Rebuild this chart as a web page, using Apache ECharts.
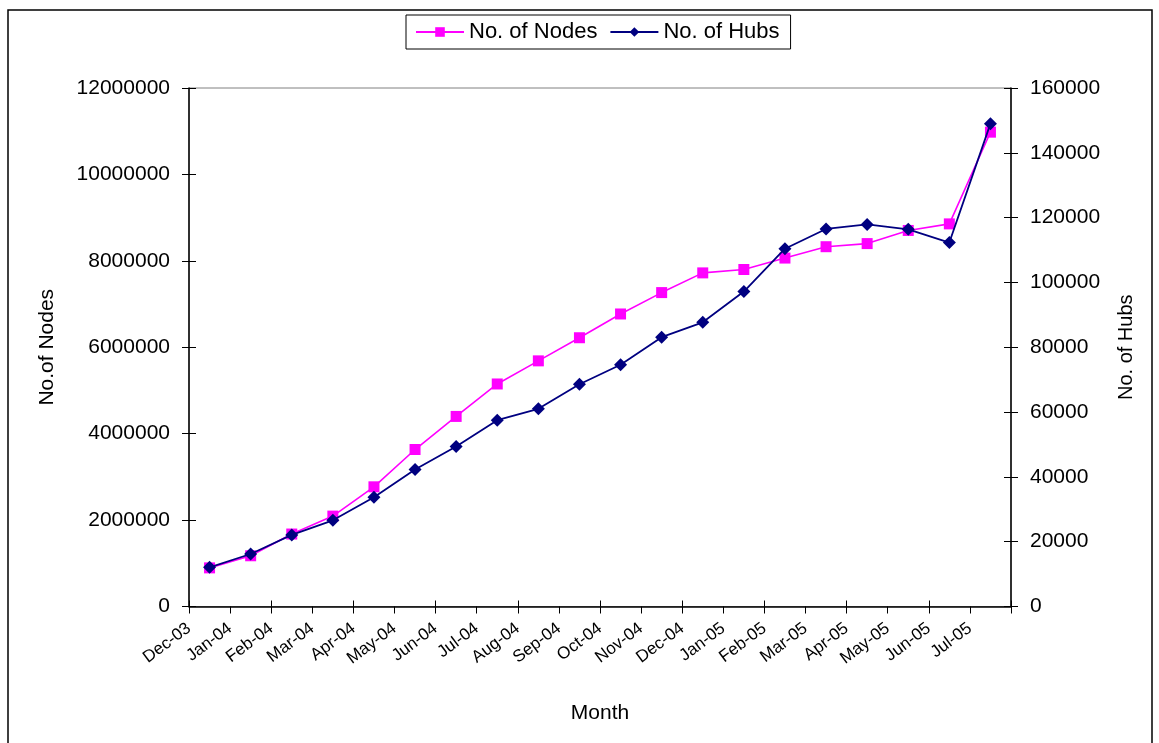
<!DOCTYPE html>
<html>
<head>
<meta charset="utf-8">
<script src="https://cdn.jsdelivr.net/npm/echarts@6/dist/echarts.min.js"></script>
<style>
html,body{margin:0;padding:0;background:#fff;}
#chart{width:1159px;height:743px;}
</style>
</head>
<body>
<div id="chart"></div>
<script>
var months = ['Dec-03','Jan-04','Feb-04','Mar-04','Apr-04','May-04','Jun-04','Jul-04','Aug-04','Sep-04',
              'Oct-04','Nov-04','Dec-04','Jan-05','Feb-05','Mar-05','Apr-05','May-05','Jun-05','Jul-05'];
var nodes = [894000,1174000,1677000,2092000,2770000,3633000,4399000,5150000,5685000,6220000,
             6770000,7265000,7721000,7800000,8064000,8327000,8399000,8703000,8855000,10978000];
var hubs = [12100,16200,22100,26600,33700,42300,49400,57500,61000,68600,
            74600,83100,87700,97200,110400,116500,117900,116400,112300,149000];
var nodeTicks = {min:0, max:12000000, interval:2000000};
var hubTicks = {min:0, max:160000, interval:20000};

var FONT = '"Liberation Sans", Arial, sans-serif';
var chart = echarts.init(document.getElementById('chart'), null, {renderer:'canvas'});
var black = '#000000';
function plain(v){ return String(v); }

chart.setOption({
  backgroundColor:'#ffffff',
  animation:false,
  textStyle:{fontFamily:FONT, color:black},
  graphic:[{
    type:'rect', shape:{x:8, y:10, width:1144, height:760},
    style:{fill:null, stroke:'#000', lineWidth:1.5}, silent:true
  }],
  legend:{
    top:15, left:406,
    data:['No. of Nodes','No. of Hubs'],
    borderColor:'#000', borderWidth:1, padding:[6,11,6,9],
    itemWidth:48, itemHeight:12, itemGap:12,
    textStyle:{fontFamily:FONT, fontSize:22, color:black}
  },
  grid:{left:189, right:148, top:88, bottom:136.5, show:true, borderColor:'#808080', borderWidth:1, backgroundColor:'transparent'},
  xAxis:[{
    type:'category', data:months, boundaryGap:true, position:'bottom',
    name:'Month', nameLocation:'middle', nameGap:96,
    nameTextStyle:{fontFamily:FONT, fontSize:21, color:black},
    axisLine:{lineStyle:{color:black, width:1.5}},
    axisTick:{show:true, inside:true, length:6, lineStyle:{color:black}},
    axisLabel:{show:false}, splitLine:{show:false}
  },{
    type:'category', data:months.concat(['']), boundaryGap:false, position:'bottom',
    axisLine:{show:false},
    axisTick:{show:true, inside:false, length:7, interval:0, lineStyle:{color:black}},
    axisLabel:{show:true, interval:0, rotate:37, margin:20, fontFamily:FONT, fontSize:17, color:black},
    splitLine:{show:false}
  }],
  yAxis:[{
    type:'value', position:'left', min:nodeTicks.min, max:nodeTicks.max, interval:nodeTicks.interval,
    name:'No.of Nodes', nameLocation:'middle', nameRotate:90, nameGap:131,
    nameTextStyle:{fontFamily:FONT, fontSize:21, color:black},
    axisLine:{show:true, lineStyle:{color:black, width:1.5}},
    axisTick:{show:true, length:7, lineStyle:{color:black}},
    axisLabel:{margin:19, fontFamily:FONT, fontSize:21, color:black, formatter:plain},
    splitLine:{show:false}
  },{
    type:'value', position:'right', min:hubTicks.min, max:hubTicks.max, interval:hubTicks.interval,
    name:'No. of Hubs', nameLocation:'middle', nameRotate:90, nameGap:105,
    nameTextStyle:{fontFamily:FONT, fontSize:20, color:black},
    axisLine:{show:true, lineStyle:{color:black, width:1.5}},
    axisTick:{show:true, length:7, lineStyle:{color:black}},
    axisLabel:{margin:19, fontFamily:FONT, fontSize:21, color:black, formatter:plain},
    splitLine:{show:false}
  },{
    type:'value', position:'left', min:nodeTicks.min, max:nodeTicks.max, interval:nodeTicks.interval,
    axisLine:{show:false}, axisTick:{show:true, inside:true, length:7, lineStyle:{color:black}},
    axisLabel:{show:false}, splitLine:{show:false}
  },{
    type:'value', position:'right', min:hubTicks.min, max:hubTicks.max, interval:hubTicks.interval,
    axisLine:{show:false}, axisTick:{show:true, inside:true, length:7, lineStyle:{color:black}},
    axisLabel:{show:false}, splitLine:{show:false}
  }],
  series:[{
    name:'No. of Nodes', type:'line', xAxisIndex:0, yAxisIndex:0, data:nodes,
    symbol:'rect', symbolSize:11, showAllSymbol:true,
    lineStyle:{color:'#FF00FF', width:1.6}, itemStyle:{color:'#FF00FF'}, z:3
  },{
    name:'No. of Hubs', type:'line', xAxisIndex:0, yAxisIndex:1, data:hubs,
    symbol:'diamond', symbolSize:13, showAllSymbol:true,
    lineStyle:{color:'#000080', width:1.8}, itemStyle:{color:'#000080'}, z:4
  }]
});
</script>
</body>
</html>
